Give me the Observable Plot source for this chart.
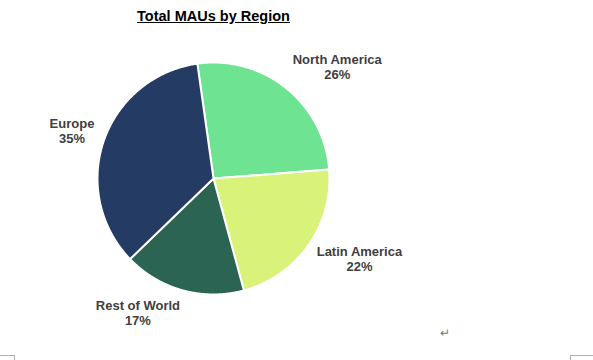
<!DOCTYPE html>
<html>
<head>
<meta charset="utf-8">
<script src="https://cdn.jsdelivr.net/npm/d3@7"></script>
<script src="https://cdn.jsdelivr.net/npm/@observablehq/plot@0.6"></script>
<style>
  html, body { margin: 0; padding: 0; background: #fff; }
  #wrap { position: relative; width: 593px; height: 360px; overflow: hidden; }
  #title {
    width: 427px; height: 30px; box-sizing: border-box; padding-top: 8px;
    text-align: center; font: bold 14.5px "Liberation Sans", Arial, sans-serif;
    line-height: 16px; color: #000; text-decoration: underline;
  }
  .mark { position: absolute; font: 12px "Liberation Sans", Arial, sans-serif; color: #777; }
  .corner { position: absolute; border-color: #b0b0b0; border-style: solid; }
</style>
</head>
<body>
<div id="wrap">
  <div id="title">Total MAUs by Region</div>
  <div id="chart"></div>
  <span class="mark" style="left:440px; top:326px;">↵</span>
  <div class="corner" style="left:0; top:355px; width:14px; height:6px; border-width:1px 1px 0 0;"></div>
  <div class="corner" style="left:570px; top:355px; width:24px; height:6px; border-width:1px 0 0 1px;"></div>
</div>
<script>
// ---- data ----
const regions = ["North America", "Latin America", "Rest of World", "Europe"];
const shares = [26, 22, 17, 35];
const colors = ["#6ee391", "#d8f27a", "#2b6452", "#243b63"];

// ---- layout settings ----
const W = 593, H = 330;
const cx = 213, cy = 148, R = 116, labelGap = 10;
const startDeg = -8;
const fontSize = 13, lineH = 15;
const labelFont = `bold ${fontSize}px "Liberation Sans", Arial, sans-serif`;

const pie = d3.pie().sort(null).value(d => d.share)
  .startAngle(startDeg * Math.PI / 180)
  .endAngle((startDeg + 360) * Math.PI / 180);
const arcs = pie(regions.map((region, i) => ({region, share: shares[i]})));

// polygon points for each slice
const slicePts = [];
for (const a of arcs) {
  const region = a.data.region;
  slicePts.push({region, x: cx, y: cy});
  const n = Math.max(2, Math.ceil((a.endAngle - a.startAngle) / (Math.PI / 360)));
  for (let k = 0; k <= n; k++) {
    const t = a.startAngle + (a.endAngle - a.startAngle) * k / n;
    slicePts.push({region, x: cx + R * Math.sin(t), y: cy - R * Math.cos(t)});
  }
}

// label text widths
const ctx = document.createElement("canvas").getContext("2d");
ctx.font = labelFont;

const labels = arcs.map(a => {
  const m = (a.startAngle + a.endAngle) / 2;
  const s = Math.sin(m), c = Math.cos(m);
  const lines = [a.data.region, `${a.data.share}%`];
  const w = Math.max(...lines.map(t => ctx.measureText(t).width));
  const h = lines.length * lineH;
  const px = cx + (R + labelGap) * s;
  const py = cy - (R + labelGap) * c;
  return {
    text: lines.join("\n"),
    x: px + Math.sign(s) * w / 2,
    y: py - c * h / 2 - 1.5
  };
});

const chart = Plot.plot({
  width: W, height: H,
  margin: 0,
  x: {domain: [0, W], range: [0, W], axis: null},
  y: {domain: [0, H], range: [0, H], axis: null},
  color: {domain: regions, range: colors},
  style: {background: "white", overflow: "visible"},
  marks: [
    Plot.line(slicePts, {
      x: "x", y: "y", z: "region", fill: "region",
      stroke: "white", strokeWidth: 2, curve: "linear-closed", strokeLinejoin: "round"
    }),
    Plot.text(labels, {
      x: "x", y: "y", text: "text",
      textAnchor: "middle", lineAnchor: "middle", lineHeight: lineH / fontSize,
      fontSize, fontWeight: "bold", fill: "#404040",
      fontFamily: "Liberation Sans, Arial, sans-serif"
    })
  ]
});
document.getElementById("chart").appendChild(chart);
</script>
</body>
</html>
